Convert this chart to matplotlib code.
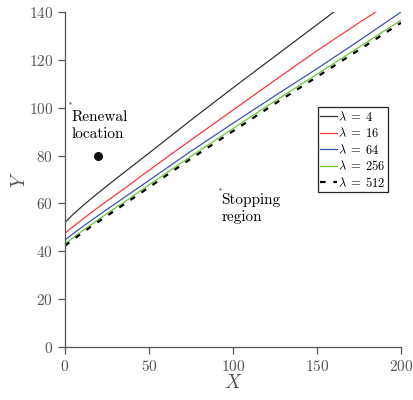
import matplotlib
matplotlib.use("Agg")
import matplotlib.pyplot as plt

plt.rcParams['font.family'] = 'serif'
plt.rcParams['font.serif'] = ['cmr10', 'DejaVu Serif']
plt.rcParams['mathtext.fontset'] = 'cm'
plt.rcParams['axes.formatter.use_mathtext'] = True

# boundary curves
x_4 = [0, 5, 10, 15, 25, 35, 50, 75, 100, 125, 150, 160]
y_4 = [52, 55.5, 58.6, 61.6, 67.3, 72.8, 81, 94.8, 108.3, 121.5, 134.7, 140]
x_16 = [0, 5, 10, 15, 25, 35, 50, 75, 100, 125, 150, 175, 185]
y_16 = [47.5, 50.4, 53.1, 55.8, 61, 66, 73.8, 86.5, 99, 111.5, 123.8, 135.5, 140]
x_all = [0, 5, 10, 15, 25, 35, 50, 75, 100, 125, 150, 175, 200]
y_64 = [44.7, 47.4, 50, 52.5, 57.5, 62.3, 69.6, 81.8, 93.5, 105, 116.3, 128, 140]
y_256 = [43, 45.7, 48.3, 50.8, 55.7, 60.4, 67.7, 79.7, 91.3, 102.8, 114, 125.3, 136.6]
y_512 = [42.3, 44.9, 47.5, 50, 54.8, 59.5, 66.7, 78.7, 90.2, 101.7, 112.9, 124.2, 135.5]

renewal = (20, 80)
gray = '#555555'

fig = plt.figure(figsize=(4.13, 4.0), dpi=100)
ax = fig.add_axes([0.157, 0.1325, 0.814, 0.8375])

ax.plot(x_4, y_4, color='#333333', lw=0.9, label=r'$\lambda \;=\; 4$')
ax.plot(x_16, y_16, color='#ff3838', lw=0.9, label=r'$\lambda \;=\; 16$')
ax.plot(x_all, y_64, color='#3a55b0', lw=0.9, label=r'$\lambda \;=\; 64$')
ax.plot(x_all, y_256, color='#66cc33', lw=0.9, label=r'$\lambda \;=\; 256$')
ax.plot(x_all, y_512, color='black', lw=1.6, dashes=(2.5, 3.5), label=r'$\lambda \;=\; 512$')

ax.plot([renewal[0]], [renewal[1]], 'o', color='#111111', ms=5.5)
ax.plot([3], [102], '.', color='#444444', ms=1)
ax.text(4, 98.8, 'Renewal\nlocation', fontsize=11, va='top', ha='left', linespacing=1.3)
ax.plot([92.3], [66], '.', color='#444444', ms=1)
ax.text(93, 64.5, 'Stopping\nregion', fontsize=11, va='top', ha='left', linespacing=1.3)

ax.set_xlim(0, 200)
ax.set_ylim(0, 140)
ax.set_xticks([0, 50, 100, 150, 200])
ax.set_yticks([0, 20, 40, 60, 80, 100, 120, 140])
for s in ['top', 'right']:
    ax.spines[s].set_visible(False)
for s in ['left', 'bottom']:
    ax.spines[s].set_color(gray)
    ax.spines[s].set_linewidth(0.9)
ax.tick_params(direction='out', length=5, width=0.9, color=gray, labelcolor=gray, labelsize=11)
ax.set_xlabel(r'$X$', fontsize=14, color=gray, labelpad=0)
ax.set_ylabel(r'$Y$', fontsize=14, color=gray, labelpad=0)

leg = ax.legend(loc='upper right', bbox_to_anchor=(0.961, 0.716), fontsize=9,
                handlelength=1.3, handletextpad=0.1, labelspacing=0.2,
                borderpad=0.2, borderaxespad=0, fancybox=False, framealpha=1)
leg.get_frame().set_edgecolor('#222222')
leg.get_frame().set_linewidth(0.9)

fig.savefig('out.png', dpi=100)
